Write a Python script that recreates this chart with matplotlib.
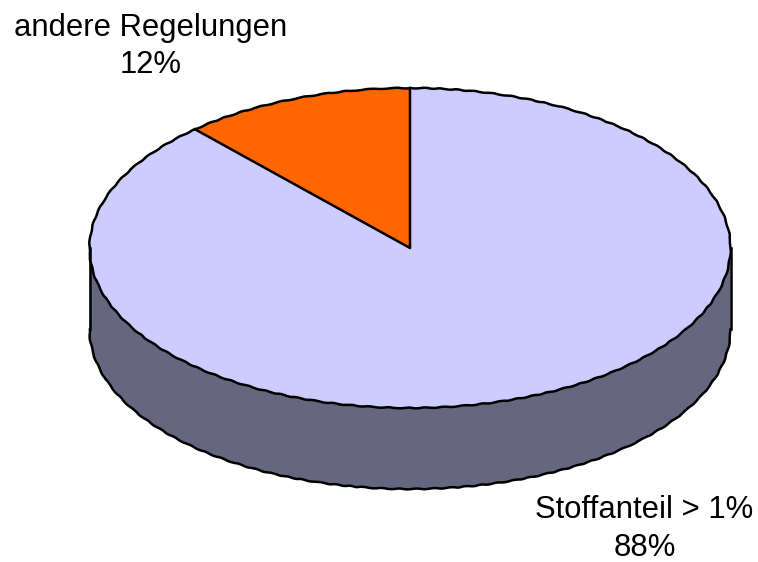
import numpy as np
from matplotlib import pyplot as plt
from matplotlib.patches import Polygon

labels = ['andere Regelungen', 'Stoffanteil > 1%']
values = [11.7, 88.3]
colors = ['#FF6600', '#CCCCFF']
side_color = '#666680'

# pie geometry in pixels
cx, cy = 410, 248
rx, ry = 320.5, 160
depth = 81
lw = 1.8


def rim(a0, a1, n=90):
    # angles in degrees, clockwise from the top
    t = np.radians(np.linspace(a0, a1, n))
    return np.column_stack([cx + rx*np.sin(t), cy - ry*np.cos(t)])


def wobbly(pts):
    # the outer edges of the original are a bit rough
    line, = ax.plot(pts[:, 0], pts[:, 1], color='black', lw=lw, solid_capstyle='round')
    line.set_sketch_params(scale=0.4, length=18, randomness=2)


fig = plt.figure(figsize=(7.58, 5.62), dpi=100)
ax = fig.add_axes([0, 0, 1, 1])
ax.set_xlim(0, 758)
ax.set_ylim(562, 0)
ax.axis('off')

# side wall, only the front half is visible
front = rim(90, 270)
bottom = front + [0, depth]
ax.add_patch(Polygon(np.vstack([front, bottom[::-1]]), closed=True, fc=side_color, ec='none'))
wobbly(bottom)
ax.plot([front[0, 0], bottom[0, 0]], [front[0, 1], bottom[0, 1]], color='black', lw=lw)
ax.plot([front[-1, 0], bottom[-1, 0]], [front[-1, 1], bottom[-1, 1]], color='black', lw=lw)

# top slices, the first one ends at twelve o'clock
start = 360 - 360*values[0]/sum(values)
a_other = rim(start, 360)
a_main = rim(0, start, 300)
for pts, col in [(a_main, colors[1]), (a_other, colors[0])]:
    ax.add_patch(Polygon(np.vstack([[cx, cy], pts]), closed=True, fc=col, ec='none'))
    wobbly(pts)

# straight edges of the small slice
ax.plot([a_other[0, 0], cx, cx], [a_other[0, 1], cy, cy - ry], color='black', lw=lw, solid_joinstyle='round')

font = ['Liberation Sans', 'DejaVu Sans']
fs = 22.3
ax.text(151, 36, labels[0], ha='center', va='baseline', fontsize=fs, family=font)
ax.text(151, 73, '%.0f%%' % values[0], ha='center', va='baseline', fontsize=fs, family=font)
ax.text(644.5, 518, labels[1], ha='center', va='baseline', fontsize=fs, family=font)
ax.text(644.5, 556, '%.0f%%' % values[1], ha='center', va='baseline', fontsize=fs, family=font)

fig.savefig('out.png', dpi=100)
